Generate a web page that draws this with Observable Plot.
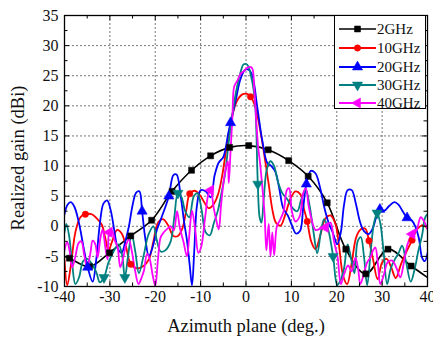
<!DOCTYPE html>
<html><head><meta charset="utf-8">
<script src="https://cdn.jsdelivr.net/npm/d3@7"></script>
<script src="https://cdn.jsdelivr.net/npm/@observablehq/plot@0.6"></script>
<style>
body{margin:0;background:#fff;}
#wrap{position:relative;width:433px;height:339px;}
#legend{position:absolute;left:334px;top:15px;width:92px;height:94px;background:#fff;border:1px solid #000;box-sizing:border-box;}
#legend svg{display:block;overflow:visible;}
</style></head><body><div id="wrap"><div id="legend"></div></div>
<script>
// ---- axis ticks ----
const xTicks = [-40, -30, -20, -10, 0, 10, 20, 30, 40];
const xMinor = [-35, -25, -15, -5, 5, 15, 25, 35];
const yTicks = [-10, -5, 0, 5, 10, 15, 20, 25, 30, 35];
const yMinor = [-7.5, -2.5, 2.5, 7.5, 12.5, 17.5, 22.5, 27.5, 32.5];
const xGrid = [-30, -20, -10, 0, 10, 20, 30];
const yGrid = [-5, 0, 5, 10, 15, 20, 25, 30];
const xTitle = "Azimuth plane (deg.)";
const yTitle = "Realized gain (dBi)";

// ---- series ----
const seriesNames = ["2GHz", "10GHz", "20GHz", "30GHz", "40GHz"];

// 2GHz
const deg2 = [-40,-38.9,-34.5,-30.1,-25.4,-20.8,-16.3,-12.0,-7.8,-3.6,0.6,4.9,9.4,13.7,17.9,22.0,26.4,31.3,36.4,40];
const gain2 = [-5.0,-5.3,-6.7,-4.4,-1.6,1.0,5.8,9.3,11.7,13.1,13.4,12.7,10.9,8.3,3.9,-3.8,-7.9,-3.8,-6.6,-8.5];
const mark2 = [-38.9,-34.5,-30.1,-25.4,-20.8,-16.3,-12.0,-7.8,-3.6,0.6,4.9,9.4,13.7,17.9,22.0,26.4,31.3,36.4];

// 10GHz
const deg10 = [-40,-39.4,-38.6,-37.6,-36.5,-35.4,-34.0,-33.0,-31.8,-31.0,-30.3,-29.5,-28.4,-27.4,-26.5,-25.4,-24.0,-22.6,-21.4,-20.4,-19.4,-18.3,-17.2,-16.0,-15.0,-14.0,-13.2,-12.4,-11.3,-10.2,-9.2,-8.2,-7.2,-6.2,-5.3,-4.3,-3.2,-2.0,-0.8,0.2,1.0,2.0,3.0,4.0,5.0,5.8,6.6,7.6,8.6,9.8,10.9,12.0,12.8,13.5,14.4,15.3,16.4,17.5,18.6,19.7,20.5,21.4,22.3,23.3,24.3,25.3,26.3,27.1,28.0,29.0,30.0,31.0,32.0,33.0,34.2,35.5,36.6,37.7,39.0,40];
const gain10 = [-5.5,-9.8,-6.5,-1.0,1.5,2.0,2.0,1.4,0.3,-2.0,-4.0,-2.5,-0.6,-1.2,-3.2,-6.3,-7.0,-6.6,-5.5,-2.5,0.6,1.2,0.2,-1.6,-1.6,-0.3,2.5,5.4,5.9,5.2,4.0,3.0,3.6,5.2,8.2,13.0,17.8,20.8,21.9,22.0,21.5,20.0,16.5,12.0,7.0,2.8,0.6,0.1,1.8,4.6,5.8,5.3,2.8,0.8,-2.6,-3.8,-1.4,1.3,1.8,0.4,-3.2,-8.2,-9.6,-6.0,-1.8,-0.5,-0.4,-2.4,-5.5,-8.8,-6.0,-5.4,-6.8,-8.6,-6.2,-4.0,-2.3,-0.5,0.2,-0.4];
const mark10 = [-35.4,-25.4,-12.4,1.0,13.5,27.1,36.6];

// 20GHz
const deg20 = [-40,-39.3,-38.6,-37.8,-36.8,-35.8,-34.9,-33.8,-33.0,-32.2,-31.4,-30.6,-29.8,-29.0,-28.2,-27.4,-26.6,-25.8,-25.0,-24.2,-23.5,-22.9,-22.2,-21.4,-20.6,-19.6,-18.6,-17.0,-16.0,-15.3,-14.4,-13.6,-13.0,-12.4,-11.9,-11.4,-10.8,-10.0,-8.9,-7.8,-6.9,-6.0,-5.0,-3.9,-3.4,-2.3,-1.2,-0.2,0.6,1.4,2.5,3.6,4.7,5.6,6.5,7.3,8.2,9.2,10.2,11.0,11.9,12.6,13.3,14.3,15.3,16.3,17.3,18.2,19.2,20.1,20.9,21.6,22.4,23.3,24.2,25.1,26.0,27.0,27.9,28.7,29.5,30.5,31.6,32.7,33.6,34.6,35.5,36.5,37.3,38.1,38.8,39.4,40];
const gain20 = [2.0,3.6,4.0,3.2,0.5,-3.5,-6.8,-9.2,-5.5,0.5,3.8,4.3,2.6,-0.8,-3.8,-4.4,-2.5,0.0,3.5,5.6,5.8,2.5,-2.0,-5.0,-3.5,-0.5,1.5,5.0,8.5,8.6,5.0,0.5,-2.4,-6.5,-9.8,-4.0,3.5,6.0,5.8,4.8,8.5,10.6,11.5,15.5,17.2,20.8,24.5,26.0,26.0,25.0,19.7,14.2,10.5,10.0,9.0,6.4,3.0,1.8,0.0,-1.2,-0.8,3.0,7.0,9.2,8.8,6.5,3.0,0.6,-1.2,-3.0,-1.0,3.5,6.0,6.0,3.8,0.8,-0.8,-1.3,-0.4,1.5,2.8,2.6,3.4,4.0,3.6,2.4,1.4,1.0,0.0,-2.0,-5.2,-5.8,-4.5];
const mark20 = [-34.9,-22.9,-17.0,-3.4,13.3,29.5,35.5];

// 30GHz
const deg30 = [-40,-39.6,-39.0,-38.3,-37.6,-36.8,-35.9,-35.0,-34.0,-33.0,-32.2,-31.3,-30.3,-29.2,-28.1,-27.3,-26.7,-26.0,-25.2,-24.4,-23.6,-22.6,-21.5,-20.4,-19.6,-18.8,-17.8,-16.6,-15.8,-15.0,-14.2,-13.4,-12.5,-11.5,-10.7,-9.8,-8.9,-8.0,-7.1,-6.2,-5.4,-4.6,-3.8,-3.0,-2.2,-1.3,-0.5,0.3,1.3,2.0,2.6,3.0,3.4,3.9,4.6,5.4,6.2,7.0,8.0,9.1,10.3,11.3,12.2,13.2,14.0,14.8,15.7,16.5,17.2,18.1,19.2,20.1,20.8,21.6,22.4,23.2,23.9,24.6,25.3,26.0,26.7,27.5,28.2,28.9,29.6,30.3,31.1,31.9,32.8,33.6,34.4,35.3,36.3,37.2,38.0,38.8,39.5,40];
const gain30 = [-1.0,0.4,-1.5,-6.3,-9.6,-8.5,-5.8,-5.4,-6.2,-7.6,-9.3,-8.5,-6.0,-4.2,-3.0,-4.8,-8.5,-5.0,-1.3,-4.2,-7.8,-5.0,-1.4,0.0,-2.5,-4.2,-4.0,-2.5,1.5,5.5,4.8,2.5,1.5,5.0,5.5,2.8,-1.0,-1.5,0.5,2.6,5.5,8.8,14.0,18.5,22.3,25.3,26.9,26.8,24.3,20.5,7.0,1.5,0.6,4.5,9.5,10.8,10.0,7.5,5.5,4.5,3.0,2.5,4.5,6.0,3.5,-0.5,-4.5,-1.0,1.2,-0.5,-5.0,-9.8,-9.0,-7.0,-3.0,-5.5,-7.8,-2.5,-1.8,-5.0,-9.8,-4.0,0.5,2.2,0.5,-4.0,-9.6,-7.0,-5.5,-4.5,-3.2,-6.0,-9.2,-7.0,-4.0,-1.5,1.5,2.0];
const mark30 = [-31.3,-26.7,-15.0,2.6,19.2,28.9];

// 40GHz
const deg40 = [-40,-39.4,-38.9,-38.3,-37.6,-36.9,-36.3,-35.6,-35.0,-34.3,-33.8,-33.2,-32.7,-32.1,-31.6,-31.0,-30.5,-30.1,-29.5,-28.9,-28.3,-27.7,-27.0,-26.4,-25.8,-25.2,-24.5,-23.7,-23.0,-22.5,-21.8,-21.2,-20.6,-20.0,-19.4,-18.8,-18.1,-17.3,-16.6,-15.9,-15.2,-14.6,-13.8,-13.0,-12.5,-11.9,-11.2,-10.5,-9.9,-9.0,-8.3,-7.8,-7.1,-6.6,-6.0,-5.5,-5.0,-4.4,-4.0,-3.8,-3.4,-3.0,-2.6,-1.9,-1.2,-0.4,0.4,1.3,1.8,2.3,2.7,3.1,3.6,4.1,4.5,5.0,5.4,5.8,6.2,6.8,7.4,8.3,9.0,9.5,10.1,10.9,11.8,12.6,13.2,13.8,14.5,15.3,16.4,17.5,18.6,19.4,20.2,20.9,21.6,22.5,23.3,24.1,24.7,25.2,26.0,26.7,27.4,28.0,28.5,29.1,29.6,30.4,31.2,32.2,33.2,34.0,34.8,35.6,36.6,37.5,38.5,39.2,40];
const gain40 = [-4.0,-2.6,-4.0,-6.8,-5.0,-2.8,-2.5,-5.0,-6.8,-4.5,-2.4,-3.0,-5.2,-2.0,-0.5,-3.5,-5.5,-1.0,-0.8,-2.4,-3.5,-6.8,-5.0,-3.0,-2.2,-4.0,-7.1,-9.6,-8.5,-7.4,-4.6,-5.5,-8.0,-9.9,-5.5,-1.8,-1.0,-0.4,0.0,-0.7,2.5,-0.2,-2.5,-5.0,-1.5,2.6,-0.5,-4.4,-3.5,1.5,5.3,6.0,3.0,1.2,-0.5,3.5,7.0,9.8,10.8,7.2,12.5,18.0,23.2,24.2,25.3,25.8,26.4,26.3,23.0,17.0,13.0,10.5,6.5,2.0,-4.0,0.4,-5.0,-1.0,-4.8,0.0,0.9,2.5,6.0,6.3,2.5,0.8,1.6,5.5,6.3,3.4,1.0,-0.6,-0.4,-0.2,0.6,-2.5,-5.2,-9.6,-8.0,-6.5,-7.5,-5.2,-7.0,-9.6,-7.8,-6.0,-5.2,-4.0,-3.5,-6.5,-9.6,-8.0,-6.0,-5.7,-7.0,-8.5,-6.0,-3.0,-1.3,-0.8,1.5,0.9,-0.5];
const mark40 = [-30.1,-7.8,17.5,36.6];

const colors = ["#000000", "#ff0000", "#0000ff", "#008080", "#ff00ff"];
const symbols = ["square", "circle", "triangle", "triangle", "triangle"];
const rotations = [0, 0, 0, 180, -90];
const radii = [3.4, 3.2, 3.8, 3.8, 3.8];

const degs = [deg2, deg10, deg20, deg30, deg40];
const gains = [gain2, gain10, gain20, gain30, gain40];
const markSets = [mark2, mark10, mark20, mark30, mark40];

const W = 433, H = 339, mL = 64, mR = 6, mT = 15, mB = 53;
const plotW = W - mL - mR, plotH = H - mT - mB;
const font = "'Liberation Serif','Times New Roman',serif";

const marks = [
  Plot.gridX({ticks: xGrid, stroke: "#666", strokeOpacity: 1, strokeWidth: 0.9, strokeDasharray: "2,2"}),
  Plot.gridY({ticks: yGrid, stroke: "#666", strokeOpacity: 1, strokeWidth: 0.9, strokeDasharray: "2,2"})
];
seriesNames.forEach((name, k) => {
  const rows = degs[k].map((d, i) => ({deg: d, gain: gains[k][i]}));
  marks.push(Plot.line(rows, {x: "deg", y: "gain", stroke: colors[k], strokeWidth: k === 0 ? 1.6 : 1.8, curve: "catmull-rom", clip: true}));
});
seriesNames.forEach((name, k) => {
  const rows = degs[k].map((d, i) => ({deg: d, gain: gains[k][i]})).filter(r => markSets[k].includes(r.deg));
  marks.push(Plot.dot(rows, {x: "deg", y: "gain", symbol: symbols[k], r: radii[k], fill: colors[k], stroke: colors[k], strokeWidth: 0.5, rotate: rotations[k], clip: true}));
});
marks.push(
  Plot.frame({stroke: "#000", strokeWidth: 1.3}),
  // inward ticks: bottom, top, left, right
  Plot.tickX(xTicks, {x: d => d, insetTop: plotH - 5, stroke: "#000"}),
  Plot.tickX(xMinor, {x: d => d, insetTop: plotH - 3.5, stroke: "#000"}),
  Plot.tickX(xTicks, {x: d => d, insetBottom: plotH - 5, stroke: "#000"}),
  Plot.tickX(xMinor, {x: d => d, insetBottom: plotH - 3.5, stroke: "#000"}),
  Plot.tickY(yTicks, {y: d => d, insetRight: plotW - 5, stroke: "#000"}),
  Plot.tickY(yMinor, {y: d => d, insetRight: plotW - 3.5, stroke: "#000"}),
  Plot.tickY(yTicks, {y: d => d, insetLeft: plotW - 5, stroke: "#000"}),
  Plot.tickY(yMinor, {y: d => d, insetLeft: plotW - 3.5, stroke: "#000"}),
  Plot.axisX({ticks: xTicks, tickSize: 0, tickPadding: 4, tickFormat: d => String(d), label: null, fill: "#111"}),
  Plot.axisY({ticks: yTicks, tickSize: 0, tickPadding: 6, tickFormat: d => String(d), label: null, fill: "#111"}),
  Plot.text([xTitle], {text: d => d, frameAnchor: "bottom", lineAnchor: "middle", textAnchor: "middle", dy: 40, fontSize: 18.5, fill: "#111"}),
  Plot.text([yTitle], {text: d => d, frameAnchor: "left", lineAnchor: "middle", textAnchor: "middle", rotate: -90, dx: -46, dy: 7, fontSize: 18.5, fill: "#111"})
);

const chart = Plot.plot({
  width: W, height: H,
  marginLeft: mL, marginRight: mR, marginTop: mT, marginBottom: mB,
  x: {domain: [-40, 40]},
  y: {domain: [-10, 35]},
  style: {fontFamily: font, fontSize: "16px", background: "#fff", color: "#111", overflow: "visible"},
  marks
});
const wrap = document.getElementById("wrap");
wrap.insertBefore(chart, wrap.firstChild);

// ---- legend overlay ----
const lg = d3.select("#legend").append("svg").attr("width", 90).attr("height", 92);
const rowY = [13, 32, 51, 69, 87];
seriesNames.forEach((name, k) => {
  const g = lg.append("g").attr("transform", `translate(0,${rowY[k]})`);
  g.append("line").attr("x1", 4).attr("x2", 41).attr("y1", 0).attr("y2", 0)
    .attr("stroke", colors[k]).attr("stroke-width", k === 0 ? 1.6 : 1.8);
  const sym = {square: d3.symbolSquare, circle: d3.symbolCircle, triangle: d3.symbolTriangle}[symbols[k]];
  g.append("path").attr("d", d3.symbol(sym, Math.PI * radii[k] * radii[k])())
    .attr("transform", `translate(22.5,0) rotate(${rotations[k]})`)
    .attr("fill", colors[k]).attr("stroke", colors[k]).attr("stroke-width", 0.5);
  g.append("text").attr("x", 42).attr("y", 0).attr("dy", "0.35em")
    .attr("font-family", font).attr("font-size", 15).attr("fill", "#111").text(name);
});
</script>
</body></html>
